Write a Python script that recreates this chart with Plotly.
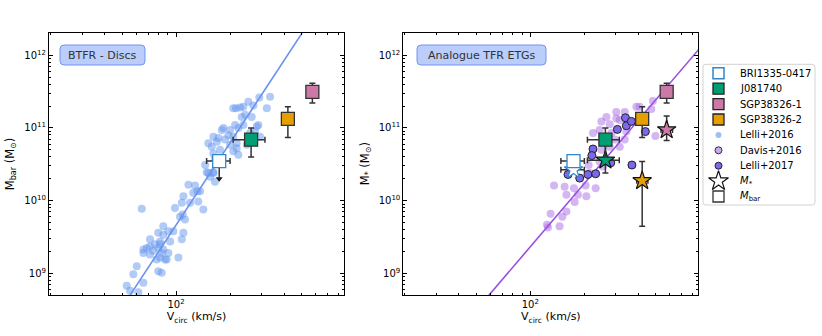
import plotly.graph_objects as go

# ---- Lelli+2016 (SPARC discs): log10 Vcirc [km/s], log10 Mbar [Msun]
lelli16_logv = [
    2.180, 2.208, 2.217, 2.069, 2.106, 2.119, 2.096, 2.134, 2.124, 2.152,
    2.041, 2.032, 2.078, 1.994, 1.809, 2.022, 2.050, 2.037, 1.985, 1.929,
    1.957, 1.901, 1.929, 2.041, 2.032, 1.855, 1.911, 1.967, 1.818, 1.837,
    1.855, 1.883, 1.873, 1.911, 1.901, 1.929, 1.957, 1.911, 1.939, 1.892,
    1.855, 2.013, 1.818, 1.781, 1.762, 1.901, 1.920, 1.818, 1.725, 1.744,
    1.790, 1.948, 1.920, 2.524, 2.464, 2.403, 2.431, 2.375, 2.357, 2.334,
    2.319, 2.506, 2.385, 2.422, 2.366, 2.329, 2.375, 2.459, 2.347, 2.301,
    2.264, 2.255, 2.292, 2.440, 2.412, 2.236, 2.208, 2.180, 2.227, 2.273,
    2.319, 2.301, 2.338, 2.394, 2.199, 2.245, 2.319, 2.347, 2.338, 2.208,
    2.171, 2.208, 2.162, 2.227, 2.217, 2.468, 2.450, 2.190,
]
lelli16_logm = [
    10.38, 10.38, 10.26, 10.22, 10.21, 10.13, 10.11, 10.13, 9.99, 9.88,
    10.06, 9.97, 9.97, 9.90, 9.89, 9.78, 9.74, 9.81, 9.58, 9.65,
    9.58, 9.56, 9.53, 9.56, 9.47, 9.47, 9.44, 9.44, 9.33, 9.35,
    9.37, 9.40, 9.31, 9.40, 9.35, 9.33, 9.28, 9.22, 9.19, 9.19,
    9.26, 9.22, 9.28, 9.10, 8.99, 9.03, 9.01, 8.87, 8.83, 8.76,
    8.74, 9.19, 9.28, 11.43, 11.42, 11.36, 11.31, 11.29, 11.28, 11.27,
    11.27, 11.27, 11.18, 11.15, 11.15, 11.04, 11.04, 11.04, 11.00, 10.97,
    11.00, 10.97, 10.90, 10.95, 10.93, 10.86, 10.88, 10.79, 10.81, 10.84,
    10.88, 10.77, 10.79, 10.77, 10.74, 10.70, 10.68, 10.63, 10.72, 10.65,
    10.39, 10.39, 10.49, 10.52, 10.58, 10.88, 11.02, 10.33,
]

# ---- Davis+2016 ETGs: log10 Vcirc, log10 M*
davis16_logv = [
    2.683, 2.674, 2.609, 2.591, 2.526, 2.479, 2.424, 2.479, 2.498, 2.396,
    2.442, 2.535, 2.386, 2.349, 2.452, 2.697, 2.526, 2.470, 2.442, 2.498,
    2.396, 2.386, 2.405, 2.325, 2.331, 2.132, 2.243, 2.265, 2.312, 2.364,
    2.308, 2.247, 2.201, 2.113, 2.178, 2.093, 2.098, 2.163, 2.191, 2.201,
]
davis16_logm = [
    11.37, 11.26, 11.29, 11.29, 11.22, 11.22, 11.15, 11.13, 11.11, 11.09,
    11.05, 10.95, 10.97, 10.93, 10.93, 10.89, 10.84, 10.84, 10.74, 10.74,
    10.70, 10.54, 10.47, 10.49, 10.38, 10.21, 10.17, 10.08, 10.06, 10.17,
    10.21, 9.98, 9.85, 9.82, 9.78, 9.67, 9.63, 9.65, 10.19, 10.08,
]

# ---- Lelli+2017 ETGs: log10 Vcirc, log10 M*
lelli17_logv = [2.530, 2.535, 2.563, 2.485, 2.641, 2.349, 2.343, 2.566,
                2.448, 2.321, 2.364, 2.275, 2.210]
lelli17_logm = [11.14, 11.03, 11.09, 10.98, 10.95, 10.71, 10.62, 10.49,
                10.52, 10.36, 10.37, 10.31, 10.36]

# ---- Fitted relations: log M = slope * log V + intercept
btfr_slope, btfr_intercept = 3.76, 2.144
etg_slope, etg_intercept = 2.89, 3.587
fit_logv = [1.5, 3.1]

# ---- High-z galaxies
galaxies = ["BRI1335-0417", "J081740", "SGP38326-1", "SGP38326-2"]
vcirc = [174, 262, 575, 420]
vcirc_lo = [148, 208, 535, 392]
vcirc_hi = [200, 313, 620, 452]
mbar = [3.5e10, 6.9e10, 3.14e11, 1.33e11]
mbar_lo = [2.0e10, 4.0e10, 2.2e11, 7.4e10]   # first entry is an upper limit
mbar_hi = [3.5e10, 1.0e11, 4.1e11, 1.95e11]
mstar = [2.66e10, 3.6e10, 9.4e10, 1.88e10]
mstar_lo = [2.66e10, 2.4e10, 6.7e10, 4.45e9]
mstar_hi = [2.66e10, 5.85e10, 1.46e11, 3.45e10]

fill_colors = ["white", "#009E73", "#CC79A7", "#E69F00"]
edge_colors = ["#2f86c9", "#333333", "#333333", "#333333"]

W, H = 822, 336
FONT = "DejaVu Sans"
ERR = "#333333"
LELLI16_COLOR = "rgba(100,149,237,0.5)"
DAVIS16_COLOR = "rgba(170,110,230,0.5)"
LELLI17_COLOR = "#7b68ee"

fig = go.Figure()

# Left panel: SPARC discs
fig.add_trace(go.Scatter(
    x=[10 ** v for v in lelli16_logv], y=[10 ** m for m in lelli16_logm],
    mode="markers", xaxis="x", yaxis="y",
    marker=dict(size=8, color=LELLI16_COLOR, line=dict(width=0)),
))
fig.add_trace(go.Scatter(
    x=[10 ** v for v in fit_logv],
    y=[10 ** (btfr_slope * v + btfr_intercept) for v in fit_logv],
    mode="lines", xaxis="x", yaxis="y",
    line=dict(color="#6a93f0", width=1.6),
))

# Right panel: ETGs
fig.add_trace(go.Scatter(
    x=[10 ** v for v in davis16_logv], y=[10 ** m for m in davis16_logm],
    mode="markers", xaxis="x2", yaxis="y2",
    marker=dict(size=8, color=DAVIS16_COLOR, line=dict(width=0)),
))
fig.add_trace(go.Scatter(
    x=[10 ** v for v in fit_logv],
    y=[10 ** (etg_slope * v + etg_intercept) for v in fit_logv],
    mode="lines", xaxis="x2", yaxis="y2",
    line=dict(color="#9a4fe0", width=1.6),
))
fig.add_trace(go.Scatter(
    x=[10 ** v for v in lelli17_logv], y=[10 ** m for m in lelli17_logm],
    mode="markers", xaxis="x2", yaxis="y2",
    marker=dict(size=8, color=LELLI17_COLOR, line=dict(color="#222222", width=1)),
))

for i, name in enumerate(galaxies):
    ex = dict(type="data", symmetric=False, array=[vcirc_hi[i] - vcirc[i]],
              arrayminus=[vcirc[i] - vcirc_lo[i]], color=ERR, thickness=1.5, width=3)
    upper_limit = i == 0
    ey = dict(type="data", symmetric=False, array=[mbar_hi[i] - mbar[i]],
              arrayminus=[mbar[i] - mbar_lo[i]], color=ERR, thickness=1.5,
              width=0 if upper_limit else 3)
    sq = dict(symbol="square", size=13, color=fill_colors[i],
              line=dict(color=edge_colors[i], width=1.3))
    if upper_limit:
        fig.add_trace(go.Scatter(
            x=[vcirc[i]], y=[mbar_lo[i]], mode="markers", xaxis="x", yaxis="y",
            marker=dict(symbol="triangle-down", size=6, color="#111111"),
        ))
    fig.add_trace(go.Scatter(
        x=[vcirc[i]], y=[mbar[i]], mode="markers", name=name,
        xaxis="x", yaxis="y", error_x=ex, error_y=ey, marker=sq,
    ))
    # stars (M*) in the right panel
    es = dict(type="data", symmetric=False, array=[mstar_hi[i] - mstar[i]],
              arrayminus=[mstar[i] - mstar_lo[i]], color=ERR, thickness=1.5, width=3)
    fig.add_trace(go.Scatter(
        x=[vcirc[i]], y=[mstar[i]], mode="markers",
        xaxis="x2", yaxis="y2", error_x=ex, error_y=es,
        marker=dict(symbol="star", size=14, color=fill_colors[i],
                    line=dict(color="#111111" if i else edge_colors[i], width=1.2)),
    ))
    fig.add_trace(go.Scatter(
        x=[vcirc[i]], y=[mbar[i]], mode="markers",
        xaxis="x2", yaxis="y2", error_x=ex,
        error_y=dict(ey, width=3) if not upper_limit else None, marker=sq,
    ))


def px_x(px):
    return px / W


def px_y(py):
    return 1 - py / H


def rounded_box(x0, y0, x1, y1, r, fill, edge, layer="above"):
    # rounded rectangle path in paper coordinates, corners given in pixels
    p = [
        f"M {px_x(x0 + r)},{px_y(y0)}",
        f"L {px_x(x1 - r)},{px_y(y0)}",
        f"Q {px_x(x1)},{px_y(y0)} {px_x(x1)},{px_y(y0 + r)}",
        f"L {px_x(x1)},{px_y(y1 - r)}",
        f"Q {px_x(x1)},{px_y(y1)} {px_x(x1 - r)},{px_y(y1)}",
        f"L {px_x(x0 + r)},{px_y(y1)}",
        f"Q {px_x(x0)},{px_y(y1)} {px_x(x0)},{px_y(y1 - r)}",
        f"L {px_x(x0)},{px_y(y0 + r)}",
        f"Q {px_x(x0)},{px_y(y0)} {px_x(x0 + r)},{px_y(y0)} Z",
    ]
    return dict(type="path", xref="paper", yref="paper", path=" ".join(p),
                fillcolor=fill, line=dict(color=edge, width=1), layer=layer)


# ---- Legend (drawn by hand on a hidden pixel-space axis, to match row spacing)
legend_items = [
    (galaxies[0], dict(symbol="square", size=11, color="white", line=dict(color="#2f86c9", width=1.5))),
    (galaxies[1], dict(symbol="square", size=11, color="#009E73", line=dict(color="#222", width=1.3))),
    (galaxies[2], dict(symbol="square", size=11, color="#CC79A7", line=dict(color="#222", width=1.3))),
    (galaxies[3], dict(symbol="square", size=11, color="#E69F00", line=dict(color="#222", width=1.3))),
    ("Lelli+2016", dict(symbol="circle", size=6, color="rgba(100,149,237,0.6)", line=dict(width=0))),
    ("Davis+2016", dict(symbol="circle", size=7, color="rgba(170,110,230,0.6)", line=dict(color="#333", width=1))),
    ("Lelli+2017", dict(symbol="circle", size=7, color=LELLI17_COLOR, line=dict(color="#222", width=1))),
    ("<i>M</i><sub>*</sub>", dict(symbol="star-open", size=15, color="#111", line=dict(width=1.2))),
    ("<i>M</i><sub>bar</sub>", dict(symbol="square-open", size=11, color="#333", line=dict(width=1.3))),
]
leg_sym_x, leg_text_x, leg_top, leg_step = 718.5, 737.5, 73.3, 15.4
legend_annotations = []
for k, (label, mk) in enumerate(legend_items):
    row_y = leg_top + k * leg_step
    fig.add_trace(go.Scatter(x=[leg_sym_x], y=[row_y], mode="markers", marker=mk,
                             xaxis="x3", yaxis="y3", hoverinfo="skip"))
    legend_annotations.append(dict(
        text=label, x=px_x(leg_text_x), y=px_y(row_y), xref="paper", yref="paper",
        xanchor="left", yanchor="middle", showarrow=False,
        font=dict(family=FONT, size=10, color="black")))

x_minor = [20, 30, 40, 50, 60, 70, 80, 90, 200, 300, 400, 500, 600, 700, 800]
y_minor = [m * 10 ** e for e in range(8, 13) for m in range(2, 10)]

axis_common = dict(
    type="log", showgrid=False, zeroline=False, showline=True, linecolor="black",
    linewidth=1, mirror="allticks", ticks="inside", ticklen=4, tickcolor="black",
    tickfont=dict(family=FONT, size=10, color="black"),
    minor=dict(ticks="inside", ticklen=2, tickcolor="black"),
)

xaxis = dict(axis_common, range=[1.292, 2.936], tickvals=[100],
             ticktext=["10<sup>2</sup>"], minor=dict(axis_common["minor"], tickvals=x_minor),
             title=dict(text="V<sub>circ</sub> (km/s)", standoff=0,
                        font=dict(family=FONT, size=11, color="black")))
yaxis = dict(axis_common, range=[8.699, 12.301], tickvals=[1e9, 1e10, 1e11, 1e12],
             ticktext=["10<sup>9</sup>", "10<sup>10</sup>", "10<sup>11</sup>", "10<sup>12</sup>"],
             minor=dict(axis_common["minor"], tickvals=y_minor))

title_font = dict(family=FONT, size=11.5, color="black")
panel_mid_y = px_y((33.3 + 295.3) / 2)

fig.update_layout(
    width=W, height=H,
    margin=dict(l=0, r=0, t=0, b=0),
    paper_bgcolor="white", plot_bgcolor="rgba(0,0,0,0)",
    showlegend=False,
    font=dict(family=FONT, size=10, color="black"),
    xaxis=dict(xaxis, domain=[49 / W, 344 / W], anchor="y"),
    yaxis=dict(yaxis, domain=[1 - 295.3 / H, 1 - 33.3 / H], anchor="x"),
    xaxis2=dict(xaxis, domain=[403.3 / W, 698.3 / W], anchor="y2"),
    yaxis2=dict(yaxis, domain=[1 - 295.3 / H, 1 - 33.3 / H], anchor="x2"),
    xaxis3=dict(domain=[0, 1], range=[0, W], visible=False, anchor="y3", fixedrange=True),
    yaxis3=dict(domain=[0, 1], range=[H, 0], visible=False, anchor="x3", fixedrange=True),
    shapes=[
        rounded_box(60, 45, 145, 65, 4, "rgba(120,155,245,0.5)", "#6f95f0"),
        rounded_box(417, 45, 546, 65, 4, "rgba(120,155,245,0.5)", "#6f95f0"),
        rounded_box(703, 64.3, 815, 205, 3, "white", "#d3d3d3", layer="below"),
    ],
    annotations=[
        dict(text="BTFR - Discs", x=px_x(102.5), y=px_y(55.5), xref="paper", yref="paper",
             xanchor="center", yanchor="middle", showarrow=False,
             font=dict(family=FONT, size=11, color="#333333")),
        dict(text="Analogue TFR ETGs", x=px_x(481.5), y=px_y(55.5), xref="paper", yref="paper",
             xanchor="center", yanchor="middle", showarrow=False,
             font=dict(family=FONT, size=11, color="#333333")),
        dict(text="M<sub>bar</sub> (M<sub>⊙</sub>)", x=px_x(10), y=panel_mid_y,
             xref="paper", yref="paper", xanchor="center", yanchor="middle",
             textangle=-90, showarrow=False, font=title_font),
        dict(text="M<sub>*</sub> (M<sub>⊙</sub>)", x=px_x(365), y=panel_mid_y,
             xref="paper", yref="paper", xanchor="center", yanchor="middle",
             textangle=-90, showarrow=False, font=title_font),
    ] + legend_annotations,
)

# drop the browser's default body margin so the figure sits at the window origin
fig.write_html("out.html", config={"displayModeBar": False},
               post_script="document.body.style.margin='0';")
